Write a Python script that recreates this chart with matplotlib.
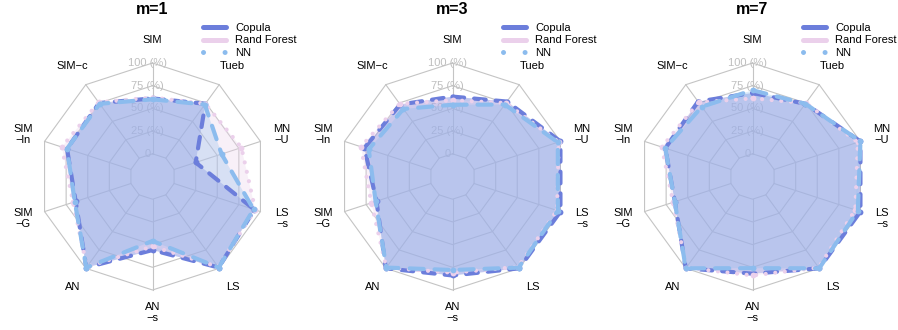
import numpy as np
import matplotlib

matplotlib.use("Agg")
import matplotlib.pyplot as plt
from matplotlib.lines import Line2D

plt.rcParams["font.family"] = ["Liberation Sans", "DejaVu Sans"]

# axes of the radar, clockwise from the top
axis_labels = ["SIM", "Tueb", "MN\n\u2212U", "LS\n\u2212s", "LS", "AN\n\u2212s",
               "AN", "SIM\n\u2212G", "SIM\n\u2212ln", "SIM\u2212c"]
level_labels = ["0", "25 (%)", "50 (%)", "75 (%)", "100 (%)"]
panel_titles = ["m=1", "m=3", "m=7"]
series_names = ["Copula", "Rand Forest", "NN"]

# accuracy in % per axis
copula_m1 = [61, 74, 25, 93, 99, 56, 99, 64, 74, 75]
rf_m1 = [62, 74, 78, 94, 98, 52, 98, 67, 80, 76]
nn_m1 = [60, 73, 55, 92, 99, 46, 99, 65, 74, 74]

copula_m3 = [63, 77, 100, 100, 100, 84, 100, 63, 77, 73]
rf_m3 = [59, 75, 98, 96, 98, 81, 99, 69, 81, 74]
nn_m3 = [54, 73, 97, 97, 99, 78, 99, 64, 72, 67]

copula_m7 = [67, 74, 100, 100, 100, 82, 100, 65, 76, 77]
rf_m7 = [61, 75, 97, 94, 99, 84, 99, 67, 80, 76]
nn_m7 = [70, 74, 100, 97, 100, 76, 100, 65, 76, 70]

line_cols = ["#6C7EDB", "#EBD0EB", "#8CBCEE"]
fill_alpha = [0.42, 0.3, 0.3]
line_styles = [(0, (2.8, 2.4)), (0, (0.01, 2.3)), (0, (3.4, 2.6))]

W, H = 898, 330
R_PX = 113.5  # outer radius in pixels
CY_PX = 176.5  # centre height from the top


def radar_xy(vals):
    vals = np.asarray(vals, dtype=float)
    n = len(vals)
    ang = np.arange(n) * 2 * np.pi / n
    r = 0.2 + 0.8 * vals / 100.0
    x = r * np.sin(ang)
    y = r * np.cos(ang)
    return np.append(x, x[0]), np.append(y, y[0])


def draw_radar(fig, i, title, series):
    x0 = 300 * i
    w = min(300, W - x0)
    cx = x0 + 152.5
    ax = fig.add_axes([x0 / W, 0, w / W, 1])
    ax.set_xlim((x0 - cx) / R_PX, (x0 + w - cx) / R_PX)
    ax.set_ylim(-(H - CY_PX) / R_PX, CY_PX / R_PX)
    ax.set_aspect("equal")
    ax.axis("off")

    n = len(axis_labels)
    ang = np.arange(n) * 2 * np.pi / n
    # grid polygons and spokes
    for k in range(5):
        r = 0.2 + 0.2 * k
        gx = np.append(r * np.sin(ang), 0)
        gy = np.append(r * np.cos(ang), r)
        ax.plot(gx, gy, color="#C4C4C4", lw=0.8, zorder=1)
    for a in ang:
        ax.plot([0.2 * np.sin(a), np.sin(a)], [0.2 * np.cos(a), np.cos(a)],
                color="#C4C4C4", lw=0.8, zorder=1)
    for k, lab in enumerate(level_labels):
        ax.text(-0.045, 0.2 + 0.2 * k, lab, color="#BEBEBE", fontsize=8,
                ha="center", va="center", zorder=1)
    for a, lab in zip(ang, axis_labels):
        ax.text(1.2 * np.sin(a), 1.2 * np.cos(a), lab, fontsize=8,
                ha="center", va="center", linespacing=1.15)

    for j, vals in enumerate(series):
        px, py = radar_xy(vals)
        ax.fill(px, py, color=line_cols[j], alpha=fill_alpha[j], lw=0, zorder=2)
        ax.plot(px, py, color=line_cols[j], lw=3, ls=line_styles[j],
                dash_capstyle="round", zorder=3 + j)
        ax.plot(px[:-1], py[:-1], "o", color=line_cols[j], ms=4.2,
                mec="none", zorder=3 + j)

    ax.text(0, (CY_PX - 10) / R_PX, title, fontsize=11.5, fontweight="bold",
            ha="center", va="center")

    handles = [
        Line2D([], [], color=line_cols[0], lw=3.6, solid_capstyle="round"),
        Line2D([], [], color=line_cols[1], lw=3.6, solid_capstyle="round"),
        Line2D([], [], color=line_cols[2], lw=3.6, ls=(0, (0.01, 4.3)),
               dash_capstyle="round"),
    ]
    ax.legend(handles, series_names, loc="upper left",
              bbox_to_anchor=((x0 + 203) / W, 1 - 23 / H),
              bbox_transform=fig.transFigure, frameon=False, fontsize=8,
              handlelength=2.1, handletextpad=0.8, labelspacing=0.22,
              borderpad=0, borderaxespad=0)


fig = plt.figure(figsize=(W / 100, H / 100), dpi=100)
all_series = [
    [copula_m1, rf_m1, nn_m1],
    [copula_m3, rf_m3, nn_m3],
    [copula_m7, rf_m7, nn_m7],
]
for i, (title, series) in enumerate(zip(panel_titles, all_series)):
    draw_radar(fig, i, title, series)

fig.savefig("out.png", dpi=100)
